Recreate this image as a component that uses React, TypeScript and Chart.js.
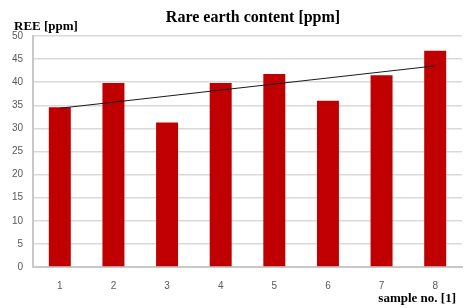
import React, { useEffect, useRef } from "react";
import { Chart, registerables } from "chart.js";

Chart.register(...registerables);

const categories = ["1", "2", "3", "4", "5", "6", "7", "8"];
const reeValues = [34.6, 39.8, 31.3, 39.8, 41.8, 36.0, 41.5, 46.8];
const yTicks = [0, 5, 10, 15, 20, 25, 30, 35, 40, 45, 50];
const titleText = "Rare earth content [ppm]";
const yTitleText = "REE [ppm]";
const xTitleText = "sample no. [1]";

// Linear trendline (least squares) over the series, as in the original chart
function linearTrend(vals: number[]): number[] {
  const n = vals.length;
  const xs = vals.map((_, i) => i + 1);
  const mx = xs.reduce((a, b) => a + b, 0) / n;
  const my = vals.reduce((a, b) => a + b, 0) / n;
  let sxy = 0, sxx = 0;
  for (let i = 0; i < n; i++) {
    sxy += (xs[i] - mx) * (vals[i] - my);
    sxx += (xs[i] - mx) * (xs[i] - mx);
  }
  const b = sxy / sxx;
  const a = my - b * mx;
  return xs.map((x) => a + b * x);
}

const textPlugin = {
  id: "texts",
  afterDraw(chart: any) {
    const { ctx } = chart;
    ctx.save();
    ctx.fillStyle = "#000";
    ctx.textBaseline = "alphabetic";
    ctx.font = "bold 16px 'Liberation Serif'";
    ctx.textAlign = "center";
    ctx.fillText(titleText, 253, 22);
    ctx.font = "bold 13px 'Liberation Serif'";
    ctx.textAlign = "left";
    ctx.fillText(yTitleText, 14, 30);
    ctx.textAlign = "right";
    ctx.fillText(xTitleText, 456, 302);
    ctx.restore();
  },
};

export default function App() {
  const ref = useRef<HTMLCanvasElement>(null);
  useEffect(() => {
    if (!ref.current) return;
    const trend = linearTrend(reeValues);
    const chart = new Chart(ref.current, {
      type: "bar",
      data: {
        labels: categories,
        datasets: [
          {
            type: "line",
            data: trend,
            borderColor: "#1a1a1a",
            borderWidth: 1,
            pointRadius: 0,
            fill: false,
            order: 0,
          } as any,
          {
            type: "bar",
            data: reeValues,
            backgroundColor: "#C00000",
            barPercentage: 0.41,
            categoryPercentage: 1,
            order: 1,
          },
        ],
      },
      plugins: [textPlugin],
      options: {
        animation: false,
        responsive: false,
        layout: { padding: { left: 8, right: 5, top: 36, bottom: 0 } },
        plugins: {
          legend: { display: false },
          title: { display: false },
          tooltip: { enabled: false },
        },
        scales: {
          x: {
            grid: { display: false },
            border: { display: true, color: "#c8c8c8", width: 2 },
            ticks: {
              color: "#595959",
              font: { family: "'Liberation Sans'", size: 10 },
              padding: 5,
            },
            afterFit(scale: any) {
              scale.height = 41;
            },
          },
          y: {
            min: 0,
            max: 50,
            afterBuildTicks(scale: any) {
              scale.ticks = yTicks.map((v) => ({ value: v }));
            },
            grid: { color: "#d9d9d9", lineWidth: 1.5, drawTicks: false },
            border: { display: true, color: "#c8c8c8", width: 2 },
            ticks: {
              color: "#595959",
              font: { family: "'Liberation Sans'", size: 10 },
              padding: 10,
            },
            afterFit(scale: any) {
              scale.width = 25;
            },
          },
        },
      },
    });
    return () => chart.destroy();
  }, []);
  return (
    <div style={{ position: "fixed", left: 0, top: 0, width: 467, height: 308, background: "#fff" }}>
      <canvas ref={ref} width={467} height={308} style={{ display: "block" }} />
    </div>
  );
}
